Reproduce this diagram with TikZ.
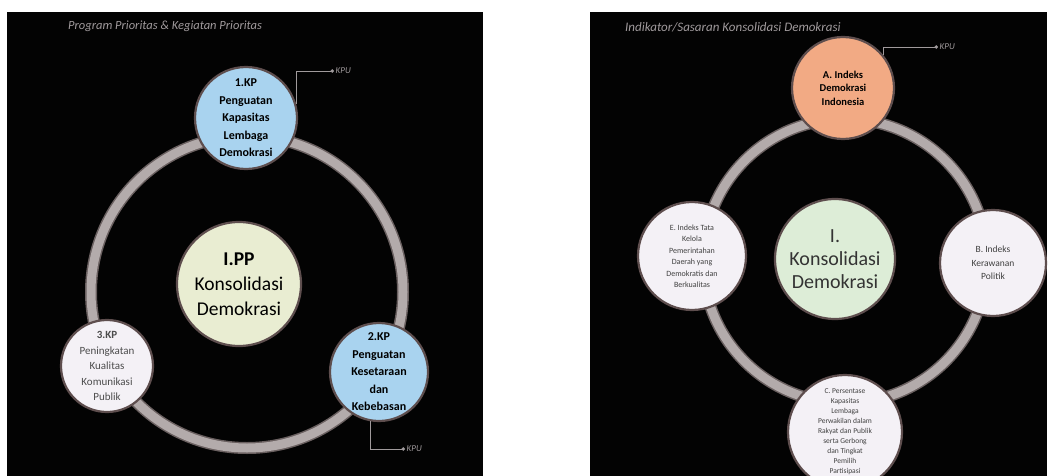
\documentclass[tikz,border=0pt]{standalone}
\usepackage{fontspec}
\setmainfont{Carlito}
\usetikzlibrary{arrows.meta}
\definecolor{panelbg}{HTML}{030303}
\definecolor{ringc}{HTML}{B3ABAB}
\definecolor{ringedge}{HTML}{6A6060}
\definecolor{bluec}{HTML}{A9D3EF}
\definecolor{orangec}{HTML}{F2AA84}
\definecolor{greenL}{HTML}{E9EDD2}
\definecolor{greenR}{HTML}{DDEDD7}
\definecolor{whitec}{HTML}{F4F1F6}
\definecolor{edgec}{HTML}{5E4E4E}
\definecolor{titlec}{HTML}{A09A9C}
\tikzset{
  bubble/.style={circle, draw=edgec, line width=2.2pt, inner sep=0pt, align=center, text=black},
  ringpath/.style={draw=ringedge, line width=12pt},
  ringfill/.style={draw=ringc, line width=9pt},
  kpuline/.style={draw=titlec, line width=0.8pt, -{Circle[length=3.5pt]}},
  kpulabel/.style={text=titlec, font=\itshape\fontsize{9}{10}\selectfont, anchor=west, inner sep=1.5pt},
  paneltitle/.style={text=titlec, font=\itshape\fontsize{12.5}{13}\selectfont, anchor=west, inner sep=0pt}
}
\begin{document}
\begin{tikzpicture}[x=1pt, y=-1pt]
\useasboundingbox (0,0) rectangle (1049,476);
\fill[white] (0,0) rectangle (1049,476);
% ---------------- left panel
\fill[panelbg] (7,12) rectangle (483,476);
\node[paneltitle] (tl) at (68,26) {Program Prioritas \& Kegiatan Prioritas};
\draw[ringpath] (247,292) circle (156);
\draw[ringfill] (247,292) circle (156);
\node[bubble, fill=greenL, minimum size=124pt, font=\fontsize{19.5}{25}\selectfont] (pp) at (239,284)
  {\textbf{I.PP}\\Konsolidasi\\Demokrasi};
\node[bubble, fill=bluec, minimum size=102pt, font=\bfseries\fontsize{12}{17.5}\selectfont] (kp1) at (246,118)
  {1.KP\\Penguatan\\Kapasitas\\Lembaga\\Demokrasi};
\node[bubble, fill=bluec, minimum size=98pt, font=\bfseries\fontsize{12}{17.5}\selectfont] (kp2) at (379,372)
  {2.KP\\Penguatan\\Kesetaraan\\dan\\Kebebasan};
\node[bubble, fill=whitec, minimum size=92pt, text=black!70, font=\fontsize{11}{15.5}\selectfont] (kp3) at (107,366)
  {\textbf{3.KP}\\Peningkatan\\Kualitas\\Komunikasi\\Publik};
\node[kpulabel] (kpu1) at (334,71) {KPU};
\node[kpulabel] (kpu2) at (405,449) {KPU};
\draw[kpuline] (kp1.16) |- (kpu1.west);
\draw[kpuline] (kp2.260) |- (kpu2.west);
% ---------------- right panel
\fill[panelbg] (590,12) rectangle (1047,476);
\node[paneltitle, font=\itshape\fontsize{13}{14}\selectfont] (tr) at (625,27) {Indikator/Sasaran Konsolidasi Demokrasi};
\draw[ringpath] (845,261) circle (142);
\draw[ringfill] (845,261) circle (142);
\node[bubble, fill=greenR, minimum size=120pt, text=black!80, font=\fontsize{20}{23}\selectfont] (ik) at (835,259)
  {I.\\Konsolidasi\\Demokrasi};
\node[bubble, fill=orangec, minimum size=102pt, font=\bfseries\fontsize{10.5}{13.5}\selectfont] (ia) at (843,88)
  {A. Indeks\\Demokrasi\\Indonesia};
\node[bubble, fill=whitec, minimum size=106pt, text=black!75, font=\fontsize{9.5}{13.5}\selectfont] (ib) at (993,263)
  {B. Indeks\\Kerawanan\\Politik};
\node[bubble, fill=whitec, minimum size=108pt, text=black!75, font=\fontsize{8}{11.5}\selectfont] (ie) at (692,256)
  {E. Indeks Tata\\Kelola\\Pemerintahan\\Daerah yang\\Demokratis dan\\Berkualitas};
\node[bubble, fill=whitec, minimum size=114pt, text=black!75, font=\fontsize{7.5}{10}\selectfont] (ic) at (845,432)
  {C. Persentase\\Kapasitas\\Lembaga\\Perwakilan dalam\\Rakyat dan Publik\\serta Gerbong\\dan Tingkat\\Pemilih\\Partisipasi};
\node[kpulabel] (kpu3) at (938,47) {KPU};
\draw[kpuline] (ia.40) |- (kpu3.west);
\end{tikzpicture}
\end{document}
